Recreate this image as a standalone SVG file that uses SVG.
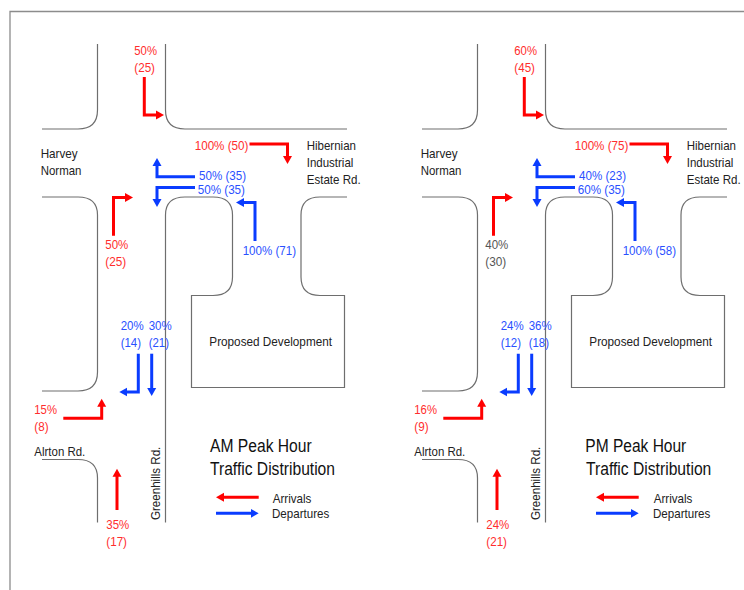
<svg xmlns="http://www.w3.org/2000/svg" width="744" height="590" viewBox="0 0 744 590">
<style>
text{font-family:"Liberation Sans",Arial,sans-serif;font-size:13.5px;fill:#222}
.r{fill:#ff2d2d}.b{fill:#2a50ff}.g{fill:#555}
.t{font-size:17.5px;fill:#111}
.road{fill:none;stroke:#6e6e6e;stroke-width:1.2}
.ar{fill:none;stroke:#ff0000;stroke-width:3;marker-end:url(#hr)}
.ab{fill:none;stroke:#0a3cff;stroke-width:3;marker-end:url(#hb)}
</style>
<defs>
<marker id="hr" markerUnits="userSpaceOnUse" markerWidth="10" markerHeight="10" refX="1" refY="5" orient="auto"><path d="M0 0.500L8 5L0 9.500Z" fill="#ff0000"/></marker>
<marker id="hb" markerUnits="userSpaceOnUse" markerWidth="10" markerHeight="10" refX="1" refY="5" orient="auto"><path d="M0 0.500L8 5L0 9.500Z" fill="#0a3cff"/></marker>
<g id="roads">
<path class="road" d="M97.500 44V110Q97.500 129 78 129H42"/>
<path class="road" d="M165.500 44V110Q165.500 129 185 129H347"/>
<path class="road" d="M42 197H78Q97.500 197 97.500 215V372Q97.500 391 78 391H42"/>
<path class="road" d="M42 459.500H78Q97.500 459.500 97.500 478V522.500"/>
<path class="road" d="M165.500 522.500V215Q165.500 197 185 197H213Q232.500 197 232.500 215V277Q232.500 295.500 213 295.500H191.500V387.500H344.500V295.500H320Q301 295.500 301 277V215Q301 197 320 197H347"/>
</g>
<g id="arrows">
<path class="ar" d="M144.300 77V115H157"/>
<path class="ar" d="M249.500 144H287.500V157"/>
<path class="ab" d="M195 176.700H157V165"/>
<path class="ab" d="M195 187.500H157V200"/>
<path class="ar" d="M113.500 235.700V197.500H126"/>
<path class="ab" d="M255 241V202.500H243"/>
<path class="ab" d="M138.300 353.700V392H126.300"/>
<path class="ab" d="M151.700 353.700V389"/>
<path class="ar" d="M63.300 418.300H101.700V405.700"/>
<path class="ar" d="M117 510V475.700"/>
<path class="ar" d="M258.700 497.300H223"/>
<path class="ab" d="M216 513.300H251.700"/>
</g>
</defs>
<g id="frame"><path d="M10 590V11.500H744" fill="none" stroke="#8c8c8c" stroke-width="1.3"/></g>
<g id="am-roads"><use href="#roads"/></g>
<g id="am-connectors"><use href="#arrows"/></g>
<g id="pm-roads"><use href="#roads" x="380"/></g>
<g id="pm-connectors"><use href="#arrows" x="380"/></g>
<g id="am-labels">
<text class="r" x="134.300" y="55" textLength="22.700" lengthAdjust="spacingAndGlyphs">50%</text>
<text class="r" x="134.300" y="71.700" textLength="20.700" lengthAdjust="spacingAndGlyphs">(25)</text>
<text class="r" x="194.700" y="149.700" textLength="53.700" lengthAdjust="spacingAndGlyphs">100% (50)</text>
<text x="306.700" y="149.700" textLength="49.300" lengthAdjust="spacingAndGlyphs">Hibernian</text>
<text x="306.700" y="166.700" textLength="46.700" lengthAdjust="spacingAndGlyphs">Industrial</text>
<text x="306.700" y="184" textLength="54" lengthAdjust="spacingAndGlyphs">Estate Rd.</text>
<text x="40.700" y="158.300" textLength="37" lengthAdjust="spacingAndGlyphs">Harvey</text>
<text x="40.700" y="175.300" textLength="40.700" lengthAdjust="spacingAndGlyphs">Norman</text>
<text class="b" x="199" y="179.700" textLength="47" lengthAdjust="spacingAndGlyphs">50% (35)</text>
<text class="b" x="197.700" y="193.700" textLength="47.300" lengthAdjust="spacingAndGlyphs">50% (35)</text>
<text class="r" x="105.300" y="249" textLength="23" lengthAdjust="spacingAndGlyphs">50%</text>
<text class="r" x="105.300" y="266" textLength="21" lengthAdjust="spacingAndGlyphs">(25)</text>
<text class="b" x="242.700" y="255.300" textLength="53.300" lengthAdjust="spacingAndGlyphs">100% (71)</text>
<text class="b" x="120.700" y="329.700" textLength="23" lengthAdjust="spacingAndGlyphs">20%</text>
<text class="b" x="120.700" y="347" textLength="20.300" lengthAdjust="spacingAndGlyphs">(14)</text>
<text class="b" x="148.700" y="329.700" textLength="23" lengthAdjust="spacingAndGlyphs">30%</text>
<text class="b" x="148.700" y="347" textLength="20.300" lengthAdjust="spacingAndGlyphs">(21)</text>
<text x="209.300" y="346.300" textLength="122.700" lengthAdjust="spacingAndGlyphs">Proposed Development</text>
<text class="r" x="34.300" y="414" textLength="22.700" lengthAdjust="spacingAndGlyphs">15%</text>
<text class="r" x="34.300" y="431" textLength="14.300" lengthAdjust="spacingAndGlyphs">(8)</text>
<text x="34.300" y="456" textLength="51" lengthAdjust="spacingAndGlyphs">Alrton Rd.</text>
<text transform="translate(159.700 520) rotate(-90)" textLength="73.300" lengthAdjust="spacingAndGlyphs">Greenhills Rd.</text>
<text class="r" x="106.300" y="528.700" textLength="23" lengthAdjust="spacingAndGlyphs">35%</text>
<text class="r" x="106.300" y="546" textLength="20.700" lengthAdjust="spacingAndGlyphs">(17)</text>
<text class="t" x="210" y="451.700" textLength="101.700" lengthAdjust="spacingAndGlyphs">AM Peak Hour</text>
<text class="t" x="210" y="475" textLength="125" lengthAdjust="spacingAndGlyphs">Traffic Distribution</text>
<text x="272.700" y="502.700" textLength="38.700" lengthAdjust="spacingAndGlyphs">Arrivals</text>
<text x="272" y="518.300" textLength="57.300" lengthAdjust="spacingAndGlyphs">Departures</text>
</g>
<g id="pm-labels">
<text class="r" x="514.300" y="55" textLength="22.700" lengthAdjust="spacingAndGlyphs">60%</text>
<text class="r" x="514.300" y="71.700" textLength="20.700" lengthAdjust="spacingAndGlyphs">(45)</text>
<text class="r" x="574.700" y="149.700" textLength="53.700" lengthAdjust="spacingAndGlyphs">100% (75)</text>
<text x="686.700" y="149.700" textLength="49.300" lengthAdjust="spacingAndGlyphs">Hibernian</text>
<text x="686.700" y="166.700" textLength="46.700" lengthAdjust="spacingAndGlyphs">Industrial</text>
<text transform="translate(686.700 184) scale(0.857 1)">Estate Rd.</text>
<text x="420.700" y="158.300" textLength="37" lengthAdjust="spacingAndGlyphs">Harvey</text>
<text x="420.700" y="175.300" textLength="40.700" lengthAdjust="spacingAndGlyphs">Norman</text>
<text class="b" x="579" y="179.700" textLength="47" lengthAdjust="spacingAndGlyphs">40% (23)</text>
<text class="b" x="577.700" y="193.700" textLength="47.300" lengthAdjust="spacingAndGlyphs">60% (35)</text>
<text class="g" x="485.300" y="249" textLength="23" lengthAdjust="spacingAndGlyphs">40%</text>
<text class="g" x="485.300" y="266" textLength="21" lengthAdjust="spacingAndGlyphs">(30)</text>
<text class="b" x="622.700" y="255.300" textLength="53.300" lengthAdjust="spacingAndGlyphs">100% (58)</text>
<text class="b" x="500.700" y="329.700" textLength="23" lengthAdjust="spacingAndGlyphs">24%</text>
<text class="b" x="500.700" y="347" textLength="20.300" lengthAdjust="spacingAndGlyphs">(12)</text>
<text class="b" x="528.700" y="329.700" textLength="23" lengthAdjust="spacingAndGlyphs">36%</text>
<text class="b" x="528.700" y="347" textLength="20.300" lengthAdjust="spacingAndGlyphs">(18)</text>
<text x="589.300" y="346.300" textLength="122.700" lengthAdjust="spacingAndGlyphs">Proposed Development</text>
<text class="r" x="414.300" y="414" textLength="22.700" lengthAdjust="spacingAndGlyphs">16%</text>
<text class="r" x="414.300" y="431" textLength="14.300" lengthAdjust="spacingAndGlyphs">(9)</text>
<text x="414.300" y="456" textLength="51" lengthAdjust="spacingAndGlyphs">Alrton Rd.</text>
<text transform="translate(539.700 520) rotate(-90)" textLength="73.300" lengthAdjust="spacingAndGlyphs">Greenhills Rd.</text>
<text class="r" x="486.300" y="528.700" textLength="23" lengthAdjust="spacingAndGlyphs">24%</text>
<text class="r" x="486.300" y="546" textLength="20.700" lengthAdjust="spacingAndGlyphs">(21)</text>
<text class="t" x="585.300" y="451.700" textLength="101" lengthAdjust="spacingAndGlyphs">PM Peak Hour</text>
<text class="t" x="586" y="475" textLength="125.300" lengthAdjust="spacingAndGlyphs">Traffic Distribution</text>
<text x="653.700" y="502.700" textLength="38.700" lengthAdjust="spacingAndGlyphs">Arrivals</text>
<text x="653" y="518.300" textLength="57.300" lengthAdjust="spacingAndGlyphs">Departures</text>
</g>
</svg>
